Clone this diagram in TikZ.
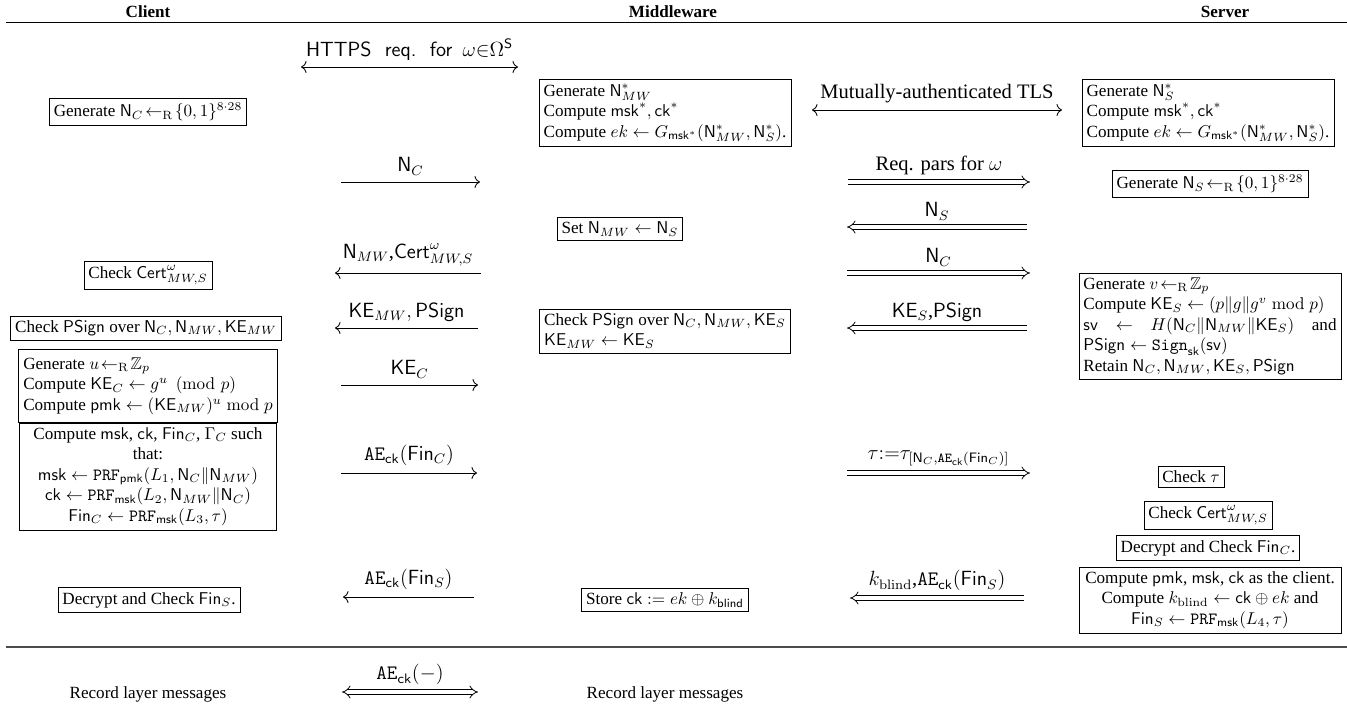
\documentclass[tikz,border=0pt]{standalone}
\usepackage{amsmath}
\usepackage{amssymb}
\usepackage[no-math]{fontspec}
\setmainfont{Liberation Serif}
\usetikzlibrary{arrows.meta}

\newlength{\srvw}
\setlength{\srvw}{148pt}

\begin{document}
\begin{tikzpicture}[x=0.5848pt,y=-0.5848pt,
    box/.style={draw,inner sep=2.6pt},
    lbl/.style={font=\large,above=0.5pt,midway},
    msg/.style={line width=0.5pt,>={To[length=3.2pt,width=7pt]}},
    tls/.style={double,double distance=2.2pt,line width=0.45pt}]
  \useasboundingbox (0,0) rectangle (1347,717);

  % headers
  \node[font=\bfseries] (hcli) at (148,12) {Client};
  \node[font=\bfseries] (hmid) at (673,12) {Middleware};
  \node[font=\bfseries] (hsrv) at (1225,12) {Server};
  \draw[line width=0.5pt] (6,22) -- (1347,22);

  % client side
  \node[box] (cgen) at (148,112) {Generate $\mathsf{N}_C\!\leftarrow_{\mathrm{R}}\!\{0,1\}^{8\cdot 28}$};
  \node[box] (ccert) at (148,275) {Check $\mathsf{Cert}^{\omega}_{MW,S}$};
  \node[box] (cpsign) at (146,328) {Check $\mathsf{PSign}$ over $\mathsf{N}_C,\mathsf{N}_{MW},\mathsf{KE}_{MW}$};
  \node[box,inner ysep=4.5pt,minimum width=150pt,align=left] (cdh) at (148,386)
    {Generate $u\!\leftarrow_{\mathrm{R}}\!\mathbb{Z}_p$\\
     Compute $\mathsf{KE}_C\leftarrow g^u \pmod p$\\
     Compute $\mathsf{pmk}\leftarrow(\mathsf{KE}_{MW})^u \bmod p$};
  \node[box,minimum width=150pt,align=center,anchor=north] (ckeys) at (cdh.south)
    {Compute $\mathsf{msk}$, $\mathsf{ck}$, $\mathsf{Fin}_C$, $\Gamma_C$ such\\ that:\\
     $\mathsf{msk}\leftarrow\mathtt{PRF}_{\mathsf{pmk}}(L_1,\mathsf{N}_C\|\mathsf{N}_{MW})$\\
     $\mathsf{ck}\leftarrow\mathtt{PRF}_{\mathsf{msk}}(L_2,\mathsf{N}_{MW}\|\mathsf{N}_C)$\\
     $\mathsf{Fin}_C\leftarrow\mathtt{PRF}_{\mathsf{msk}}(L_3,\tau)$};
  \node[box] (cfin) at (149,600) {Decrypt and Check $\mathsf{Fin}_S$.};
  \node (crec) at (148,694) {Record layer messages};

  % middleware side
  \node[box,align=left] (mgen) at (665,113)
    {Generate $\mathsf{N}^*_{MW}$\\
     Compute $\mathsf{msk}^*,\mathsf{ck}^*$\\
     Compute $ek\leftarrow G_{\mathsf{msk}^*}(\mathsf{N}^*_{MW},\mathsf{N}^*_S)$.};
  \node[box] (mset) at (620,229) {Set $\mathsf{N}_{MW}\leftarrow\mathsf{N}_S$};
  \node[box,align=left] (mpsign) at (665,331)
    {Check $\mathsf{PSign}$ over $\mathsf{N}_C,\mathsf{N}_{MW},\mathsf{KE}_S$\\
     $\mathsf{KE}_{MW}\leftarrow\mathsf{KE}_S$};
  \node[box] (mstore) at (665,600) {Store $\mathsf{ck}:=ek\oplus k_{\mathsf{blind}}$};
  \node (mrec) at (665,694) {Record layer messages};

  % server side
  \node[box,align=left] (sgen) at (1208,113)
    {Generate $\mathsf{N}^*_S$\\
     Compute $\mathsf{msk}^*,\mathsf{ck}^*$\\
     Compute $ek\leftarrow G_{\mathsf{msk}^*}(\mathsf{N}^*_{MW},\mathsf{N}^*_S)$.};
  \node[box] (snonce) at (1210,184) {Generate $\mathsf{N}_S\!\leftarrow_{\mathrm{R}}\!\{0,1\}^{8\cdot 28}$};
  \node[box,align=left] (sdh) at (1210,326)
    {Generate $v\!\leftarrow_{\mathrm{R}}\!\mathbb{Z}_p$\\
     Compute $\mathsf{KE}_S\leftarrow(p\|g\|g^v \bmod p)$\\
     \makebox[\srvw][l]{$\mathsf{sv}$\hfill$\leftarrow$\hfill$H(\mathsf{N}_C\|\mathsf{N}_{MW}\|\mathsf{KE}_S)$\hfill and}\\
     $\mathsf{PSign}\leftarrow\mathtt{Sign}_{\mathsf{sk}}(\mathsf{sv})$\\
     Retain $\mathsf{N}_C,\mathsf{N}_{MW},\mathsf{KE}_S,\mathsf{PSign}$};
  \node[box] (stau) at (1191,477) {Check $\tau$};
  \node[box] (scert) at (1208,515) {Check $\mathsf{Cert}^{\omega}_{MW,S}$};
  \node[box] (sfin) at (1208,548) {Decrypt and Check $\mathsf{Fin}_C$.};
  \node[box,minimum width=\srvw+5.2pt,align=center] (skeys) at (1210,600)
    {Compute $\mathsf{pmk}$, $\mathsf{msk}$, $\mathsf{ck}$ as the client.\\
     Compute $k_{\mathrm{blind}}\leftarrow\mathsf{ck}\oplus ek$ and\\
     $\mathsf{Fin}_S\leftarrow\mathtt{PRF}_{\mathsf{msk}}(L_4,\tau)$};

  % client <-> middleware messages
  \coordinate (cm1l) at (301,67);  \coordinate (cm1r) at (518,67);
  \coordinate (cm2l) at (341,182); \coordinate (cm2r) at (480,182);
  \coordinate (cm3l) at (335,273); \coordinate (cm3r) at (481,273);
  \coordinate (cm4l) at (335,328); \coordinate (cm4r) at (478,328);
  \coordinate (cm5l) at (341,385); \coordinate (cm5r) at (478,385);
  \coordinate (cm6l) at (341,473); \coordinate (cm6r) at (477,473);
  \coordinate (cm7l) at (343,597); \coordinate (cm7r) at (474,597);
  \coordinate (cm8l) at (342,692); \coordinate (cm8r) at (478,692);
  \draw[msg,<->] (cm1l) -- node[lbl]{\textsf{HTTPS\ \ req.\ \ for}\ \ $\omega{\in}\Omega^{\mathsf{S}}$} (cm1r);
  \draw[msg,->] (cm2l) -- node[lbl]{$\mathsf{N}_C$} (cm2r);
  \draw[msg,<-] (cm3l) -- node[lbl]{$\mathsf{N}_{MW}$,$\mathsf{Cert}^{\omega}_{MW,S}$} (cm3r);
  \draw[msg,<-] (cm4l) -- node[lbl]{$\mathsf{KE}_{MW},\mathsf{PSign}$} (cm4r);
  \draw[msg,->] (cm5l) -- node[lbl]{$\mathsf{KE}_C$} (cm5r);
  \draw[msg,->] (cm6l) -- node[lbl]{$\mathtt{AE}_{\mathsf{ck}}(\mathsf{Fin}_C)$} (cm6r);
  \draw[msg,<-] (cm7l) -- node[lbl]{$\mathtt{AE}_{\mathsf{ck}}(\mathsf{Fin}_S)$} (cm7r);
  \draw[tls,Implies-Implies] (cm8l) -- node[lbl]{$\mathtt{AE}_{\mathsf{ck}}(-)$} (cm8r);

  % middleware <-> server messages
  \coordinate (ms1l) at (812,110);  \coordinate (ms1r) at (1062,110);
  \coordinate (ms2l) at (848,182);  \coordinate (ms2r) at (1030,182);
  \coordinate (ms3l) at (847,227);  \coordinate (ms3r) at (1027,227);
  \coordinate (ms4l) at (847,273);  \coordinate (ms4r) at (1030,273);
  \coordinate (ms5l) at (847,328);  \coordinate (ms5r) at (1027,328);
  \coordinate (ms6l) at (847,473);  \coordinate (ms6r) at (1030,473);
  \coordinate (ms7l) at (850,598);  \coordinate (ms7r) at (1024,598);
  \draw[msg,<->] (ms1l) -- node[lbl]{Mutually-authenticated TLS} (ms1r);
  \draw[tls,-Implies] (ms2l) -- node[lbl]{Req. pars for $\omega$} (ms2r);
  \draw[tls,Implies-] (ms3l) -- node[lbl]{$\mathsf{N}_S$} (ms3r);
  \draw[tls,-Implies] (ms4l) -- node[lbl]{$\mathsf{N}_C$} (ms4r);
  \draw[tls,Implies-] (ms5l) -- node[lbl]{$\mathsf{KE}_S$,$\mathsf{PSign}$} (ms5r);
  \draw[tls,-Implies] (ms6l) -- node[lbl,font=\fontsize{11.5}{13}\selectfont]{$\tau{:=}\tau_{[\mathsf{N}_C,\mathtt{AE}_{\mathsf{ck}}(\mathsf{Fin}_C)]}$} (ms6r);
  \draw[tls,Implies-] (ms7l) -- node[lbl]{$k_{\mathrm{blind}}$,$\mathtt{AE}_{\mathsf{ck}}(\mathsf{Fin}_S)$} (ms7r);

  % record layer separator
  \draw[line width=0.6pt,black!70] (6,647) -- (1347,647);
\end{tikzpicture}
\end{document}
